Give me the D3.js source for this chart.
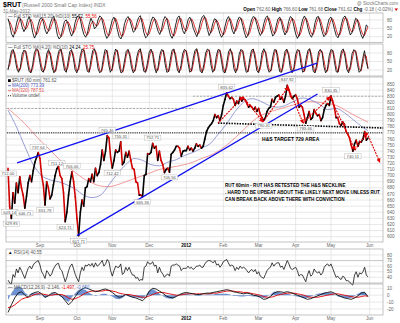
<!DOCTYPE html>
<html><head><meta charset="utf-8">
<script src="https://cdn.jsdelivr.net/npm/d3@7"></script>
<style>
body{margin:0;background:#fff}
svg{display:block}
text{font-family:"Liberation Sans",Arial,sans-serif}
</style>
</head><body>
<svg id="chart" width="400" height="323"></svg>
<script>
// ---- data: $RUT 60-minute, 5 Aug 2011 .. 31 May 2012 (one value per trading day) ----
const priceVals = [
712,649.14,629.85,672,655,688,672,698,680,668,646.71,666,688,700,690,708,722,730,737.64,
728,700,685,651.79,690,680,662,668,685,700,711.12,715,700,695,672,624.71,640,668,690,706.06,690,665,
630,601.71,640,660,650,680,682,695,690,702,690,712,700,705,718,742,725,740,765.46,762,730,
712.42,725,742,738,740,755.31,718,722,738,730,740,725,712,710,690,688,668,668,665.36,700,702,736,
735,738,752.71,745,748,725,740,725,718,705,710,712,705.56,735,738,742,748,748,745,732,740,741,
741,748,742,745,740,745,752,748,750,745,748,760,772,778,782,785,790,800,795,798,790,800,
815,825,835.62,830,826,828,825,815,822,818,828,822,826,824,818,812,815,812,808,812,805,
810,800,795,790.41,795,805,810,812,825,820,828,830,832,825,828,820,830,847.92,840,830,826,830,
832,826,812,815,812,800,785.66,795,805,792,795,808,802,798,800,790,795,808,815,818,815,
830.35,822,812,795,795,785,782,788,784,772,768,762,750,740.11,752,758,748,756,755,760,772,758,761.62
];
// annotated swing points: index into priceVals, placed above or below the bar
const swingLabels = [
  {i:0,pos:"below"},{i:1,pos:"below"},{i:2,pos:"below"},{i:10,pos:"below"},{i:18,pos:"above"},
  {i:22,pos:"below"},{i:29,pos:"above"},{i:34,pos:"below"},{i:38,pos:"above"},{i:42,pos:"below"},
  {i:59,pos:"above"},{i:62,pos:"below"},{i:67,pos:"above"},{i:80,pos:"below"},{i:86,pos:"above"},
  {i:96,pos:"below"},{i:130,pos:"above"},{i:152,pos:"below"},{i:166,pos:"above"},{i:177,pos:"below"},
  {i:192,pos:"above"},{i:205,pos:"below"}
];
// moving averages sampled every 5 trading days
const maIdx = [0,5,10,15,20,25,30,35,40,45,50,55,60,65,70,75,80,85,90,95,100,105,110,115,120,125,130,135,140,145,150,155,160,165,170,175,180,185,190,195,200,205,210,214];
const ma200 = [807,780,748,718,700,693,690,685,678,668,664,668,685,703,718,728,725,718,716,722,726,733,738,745,752,768,785,805,820,826,822,815,812,815,822,827,824,817,808,810,803,792,781,773.39];
const ma320 = [810,798,785,770,755,742,728,716,705,695,688,683,682,685,690,695,700,705,710,713,715,718,722,728,733,740,750,762,775,788,798,804,808,812,816,820,821,820,818,815,808,800,793,787.51];

const sto1K = [
85,62,30,18,40,72,90,84,55,38,50,78,92,70,35,15,28,60,82,88,
74,45,30,42,68,85,93,60,25,12,20,48,75,80,66,40,22,35,70,90,
95,82,50,28,18,32,64,86,72,48,55,80,94,88,60,30,14,24,52,78,
90,76,44,20,12,30,66,84,92,80,58,36,42,70,88,95,68,34,16,22,
48,74,90,86,62,40,28,46,78,92,84,52,26,14,30,62,88,94,70,42,
30,52,80,90,76,50,34,20,40,72,90,96,78,46,24,38,66,84,80,56,
32,18,28,58,82,92,74,44,30,48,76,90,86,60,34,16,26,54,80,92,
88,64,40,24,36,68,88,94,72,44,22,30,60,84,90,70,42,26,40,74,
92,86,58,30,14,26,56,82,94,80,50,28,18,36,70,90,92,66,38,20,
28,60,84,90,72,46,24,16,34,66,88,94,76,48,26,36,64,86,80,52,
28,14,30,62,55.72];
const sto1D = [
80,74,58,38,30,45,68,84,78,58,46,55,74,82,68,42,26,36,58,78,
84,70,50,40,48,66,84,80,58,32,20,28,50,70,74,62,42,32,44,68,
86,90,74,52,32,26,40,64,76,68,58,62,78,88,80,58,34,22,32,54,
74,86,70,46,25,22,38,62,82,86,76,56,44,52,68,86,84,62,38,24,
30,48,72,84,78,60,42,38,52,74,86,76,52,30,22,36,62,84,86,66,
46,40,56,76,84,72,52,34,30,46,70,88,88,68,46,34,44,66,80,72,
54,36,26,36,58,80,84,66,46,40,54,76,86,78,56,34,24,34,58,80,
88,80,62,42,32,44,68,86,86,66,42,30,40,64,84,82,62,40,34,50,
72,86,80,58,32,22,34,58,82,86,70,48,30,28,46,72,88,82,60,36,
26,36,60,80,84,68,44,26,26,44,70,88,86,66,44,36,46,70,82,70,
46,28,24,40,55.56];
const sto2K = [
20,55,88,92,60,25,12,30,75,90,85,45,15,10,40,82,95,88,50,18,
12,35,78,92,70,30,10,20,65,90,94,55,20,12,48,85,92,62,22,10,
30,72,94,90,45,15,12,55,88,95,70,25,10,18,60,92,88,40,12,25,
70,94,85,35,10,15,52,86,93,68,28,10,22,66,90,95,50,15,12,45,
82,94,75,30,10,28,72,92,88,42,12,15,58,90,94,60,20,10,35,78,
93,85,45,12,18,62,90,95,55,15,10,40,80,94,88,38,12,22,68,92,
90,50,14,10,45,85,95,72,25,10,30,76,93,86,40,12,15,60,90,94,
58,18,10,38,82,95,78,30,12,20,65,92,90,45,14,12,50,86,94,70,
25,10,28,74,92,88,42,12,18,62,90,95,55,15,10,42,84,93,80,32,
10,22,70,92,89,48,14,12,55,88,94,66,22,10,35,78,92,85,40,12,
20,60,88,50,24.24];
const sto2D = [
25,38,72,90,76,42,18,22,52,82,88,65,30,12,25,61,88,92,69,34,
15,24,56,85,81,50,20,15,42,78,92,74,38,16,30,66,88,77,42,16,
20,51,83,92,68,30,14,34,72,92,82,48,18,14,39,76,90,64,26,18,
48,82,90,60,22,12,34,69,90,80,48,19,16,44,78,92,72,32,14,28,
64,88,85,52,20,19,50,82,90,65,27,14,36,74,92,77,40,15,22,56,
86,89,65,28,15,40,76,92,75,35,12,25,60,87,91,63,25,17,45,80,
91,70,32,12,28,65,90,84,48,18,20,53,84,90,63,26,14,38,75,92,
76,38,14,24,60,88,86,54,21,16,42,78,91,68,30,13,31,68,90,82,
48,18,19,51,83,90,65,27,15,40,76,92,75,35,12,26,63,88,86,56,
21,16,46,81,90,68,31,13,34,72,91,80,44,16,22,56,85,88,62,26,
16,40,74,69,25.75];
const rsiVals = [
35,30,28,45,40,55,48,58,52,45,38,48,56,60,55,62,66,68,70,
62,50,45,38,52,48,42,46,55,60,64,65,55,52,42,32,40,52,60,64,55,45,
38,32,48,58,52,62,60,64,60,65,58,66,60,62,66,70,60,64,72,68,52,
42,52,60,58,58,64,45,48,58,52,58,50,44,44,38,40,34,36,35,58,60,68,
64,64,68,60,62,48,58,50,46,40,44,46,42,60,62,62,64,62,60,52,56,56,
56,60,56,58,54,56,60,60,62,58,58,64,68,70,70,68,66,70,62,64,58,62,
68,70,72,66,60,62,60,52,58,54,60,56,58,56,52,48,52,54,50,54,46,
50,42,40,38,45,52,56,58,66,60,64,66,66,58,60,54,62,70,64,56,54,56,
58,52,42,45,44,38,32,44,52,42,45,55,50,48,50,44,48,58,62,64,60,
64,56,48,40,42,38,36,42,40,34,34,32,28,26,44,50,40,48,46,50,58,44,40.55];
// MACD(12,26,9) sampled every 2 trading days
const macdLine = [
-25,-14,-4,3,5,0,-3,2,4,5, 2,-3,-1,3,4,1,-2,-8,-14,-9,
-2,5,9,11,9,7,5,6,8,9, 7,4,0,-3,-2,1,-1,-3,-4,-6,
-8,-3,6,10,9,6,3,-1,-3,-4, -2,1,3,4,3,2,1,1,2,3,
3,4,5,6,7,8,7,5,4,3, 2,3,2,0,-1,-3,-6,-5,-2,3,
5,5,4,5,4,2,0,-2,-4,-6, -5,-3,-1,1,3,4,5,3,0,-2,
-4,-5,-6,-4,-1,3,4,-2.146];
const macdSignal = [
-18,-17,-14,-10,-6,-4,-3,-1,1,2, 2,1,0,0,1,1,1,-1,-4,-6,
-5,-3,0,3,5,6,6,6,6,7, 7,6,5,3,2,1,1,0,-1,-2,
-3,-3,-1,1,3,4,4,3,2,1, 0,0,1,2,2,2,2,2,2,2,
2,3,3,4,5,6,6,6,5,5, 4,4,3,2,1,0,-2,-3,-3,-2,
0,1,2,3,3,3,2,1,0,-2, -3,-3,-3,-2,-1,0,1,2,2,1,
0,-1,-2,-3,-3,-2,-1,-1.497];

const monthTicks = [
  {label:"Sep",i:19},{label:"Oct",i:41},{label:"Nov",i:62},{label:"Dec",i:84},{label:"2012",i:106,bold:true},
  {label:"Feb",i:128},{label:"Mar",i:149},{label:"Apr",i:171},{label:"May",i:192},{label:"Jun",i:215}
];
const mainTicks = d3.range(600, 851, 10);

// chart annotations in (trading-day index, price) space
const upperChannel = [[5.4,720.7],[183.7,884]];
const lowerChannel = [[41,601.71],[184,833.6]];
const neckline = [[124.8,786],[223,778]];
const level770 = [[-0.6,770],[223,770]];
const dashedLevels = [{from:110,to:223,v:830},{from:-0.6,to:110,v:810}];
const hsPath = [[124.8,786],[139.7,829],[151.6,788],[166.5,845],[175.4,786],[191.4,829],[206.3,742],[213.4,770],[221,722]];

// ---- layout ----
const svg = d3.select("#chart");
const L = 6, R = 383;
const nDays = priceVals.length;
const x = d3.scaleLinear().domain([0, nDays - 1]).range([8, 368]);
const panels = {
  sto1:{top:13,bottom:42.5},
  sto2:{top:44,bottom:76},
  main:{top:77,bottom:242},
  rsi:{top:249,bottom:283},
  macd:{top:284,bottom:315}
};
const yS1 = d3.scaleLinear().domain([0,100]).range([42.3,14.3]);
const yS2 = d3.scaleLinear().domain([0,100]).range([75.7,47.3]);
const yM = d3.scaleLinear().domain([600,850]).range([236.7,84]);
const yR = d3.scaleLinear().domain([40,80]).range([277.3,255]);
const yD = d3.scaleLinear().domain([-20,10]).range([309,288.3]);

const grid = "#d8d8d8";
function panelFrame(p, yTicks, yScale, fmt, strong){
  const g = svg.append("g");
  g.selectAll("line.h").data(yTicks).join("line")
    .attr("x1",L).attr("x2",R).attr("y1",d=>yScale(d)).attr("y2",d=>yScale(d))
    .attr("stroke",d=>strong&&strong.includes(d)?"#a0a0a0":grid).attr("stroke-width",0.6);
  g.selectAll("line.v").data(monthTicks).join("line")
    .attr("x1",d=>x(d.i)).attr("x2",d=>x(d.i)).attr("y1",p.top).attr("y2",p.bottom)
    .attr("stroke",grid).attr("stroke-width",0.6);
  g.append("rect").attr("x",L).attr("y",p.top).attr("width",R-L).attr("height",p.bottom-p.top)
    .attr("fill","none").attr("stroke","#9a9a9a").attr("stroke-width",0.6);
  g.selectAll("text").data(yTicks).join("text")
    .attr("x",387).attr("y",d=>yScale(d)+1.6).attr("font-size",4.6).attr("fill","#666").text(fmt||(d=>d));
  return g;
}
function linePath(xs, ys){ return d3.line().x((d,i)=>xs(i)).y(d=>ys(d)); }

// ---- header ----
svg.append("text").attr("x",3).attr("y",7).attr("font-size",7).attr("font-weight","bold").text("$RUT");
svg.append("text").attr("x",22).attr("y",7).attr("font-size",5).attr("fill","#777").text("(Russell 2000 Small Cap Index)  INDX");
svg.append("text").attr("x",3).attr("y",12.5).attr("font-size",4.6).attr("fill","#777").text("31-May-2012");
svg.append("text").attr("x",398).attr("y",4.5).attr("font-size",4.6).attr("fill","#777").attr("text-anchor","end").text("@ StockCharts.com");
const quote = svg.append("text").attr("x",393).attr("y",10.5).attr("font-size",4.6).attr("text-anchor","end");
[["Open ","#000",true],["762.60 ","#666"],["High ","#000",true],["766.60 ","#666"],["Low ","#000",true],["761.68 ","#666"],
 ["Close ","#000",true],["761.62 ","#666"],["Chg ","#000",true],["-0.18 (-0.02%)","#666"]].forEach(t=>{
  quote.append("tspan").attr("fill",t[1]).attr("font-weight",t[2]?"bold":"normal").text(t[0]);
});
svg.append("path").attr("d","M394.5,8.5 L398,8.5 L396.25,11 Z").attr("fill","#c00");

// ---- stochastic panels ----
function stoPanel(p, ys, k, d, title, kv, dv){
  panelFrame(p, [20,50,80], ys);
  const xi = d3.scaleLinear().domain([0,k.length-1]).range([x(0), x(nDays-1)]);
  const xd = d3.scaleLinear().domain([0,d.length-1]).range([x(0), x(nDays-1)]);
  svg.append("path").attr("d",linePath(xd,ys)(d)).attr("fill","none").attr("stroke","#d00000").attr("stroke-width",0.8);
  svg.append("path").attr("d",linePath(xi,ys)(k)).attr("fill","none").attr("stroke","#111").attr("stroke-width",0.9);
  const t = svg.append("text").attr("x",L+2).attr("y",p.top+4.5).attr("font-size",4.5);
  t.append("tspan").attr("fill","#000").text("\u2014 ");
  t.append("tspan").attr("fill","#555").text(title+" ");
  t.append("tspan").attr("fill","#000").text(kv+", ");
  t.append("tspan").attr("fill","#e00").text(dv);
}
stoPanel(panels.sto1, yS1, sto1K, sto1D, "Full STO %K(15,20) %D(10)", "55.72", "55.56");
stoPanel(panels.sto2, yS2, sto2K, sto2D, "Full STO %K(4,20) %D(10)", "24.24", "25.75");

// ---- main price panel ----
const pm = panels.main;
panelFrame(pm, mainTicks, yM);
const mg = svg.append("g");
// dashed gray reference levels
dashedLevels.forEach(l=>{
  mg.append("line").attr("x1",x(l.from)).attr("x2",x(l.to)).attr("y1",yM(l.v)).attr("y2",yM(l.v))
    .attr("stroke","#888").attr("stroke-width",0.7).attr("stroke-dasharray","2,1.5");
});
// moving averages
const xMa = i => x(maIdx[i]);
mg.append("path").attr("d",d3.line().x((d,i)=>xMa(i)).y(d=>yM(d)).curve(d3.curveMonotoneX)(ma320))
  .attr("fill","none").attr("stroke","#f08080").attr("stroke-width",0.8);
mg.append("path").attr("d",d3.line().x((d,i)=>xMa(i)).y(d=>yM(d)).curve(d3.curveMonotoneX)(ma200))
  .attr("fill","none").attr("stroke","#7f86c8").attr("stroke-width",0.8);
// price: black on up moves, red on down moves
for(let i=1;i<nDays;i++){
  mg.append("line").attr("x1",x(i-1)).attr("y1",yM(priceVals[i-1])).attr("x2",x(i)).attr("y2",yM(priceVals[i]))
    .attr("stroke",priceVals[i]<priceVals[i-1]?"#d00000":"#000").attr("stroke-width",1.6).attr("stroke-linecap","round");
}
// horizontal level and neckline
const pl = d3.line().x(d=>x(d[0])).y(d=>yM(d[1]));
mg.append("path").attr("d",pl(level770)).attr("stroke","#000").attr("stroke-width",0.9).attr("stroke-dasharray","1.2,1").attr("fill","none");
mg.append("path").attr("d",pl(neckline)).attr("stroke","#000").attr("stroke-width",1.6).attr("stroke-dasharray","1.5,1.2").attr("fill","none");
// channel lines
mg.append("path").attr("d",pl(upperChannel)).attr("stroke","#1010ee").attr("stroke-width",1.3).attr("fill","none");
mg.append("path").attr("d",pl(lowerChannel)).attr("stroke","#1010ee").attr("stroke-width",1.3).attr("fill","none");
// head & shoulders projection arrows
svg.append("defs").append("marker").attr("id","ah").attr("viewBox","0 0 6 6").attr("refX",5).attr("refY",3)
  .attr("markerWidth",4).attr("markerHeight",4).attr("orient","auto")
  .append("path").attr("d","M0,0 L6,3 L0,6 Z").attr("fill","#e00000");
for(let i=1;i<hsPath.length;i++){
  mg.append("path").attr("d",pl([hsPath[i-1],hsPath[i]])).attr("stroke","#e00000").attr("stroke-width",1.1)
    .attr("stroke-dasharray","2,1").attr("fill","none").attr("marker-end","url(#ah)");
}
// swing value labels
swingLabels.forEach(s=>{
  const v = priceVals[s.i];
  const cx = x(s.i), cy = yM(v) + (s.pos==="below"?5.5:-5.5);
  const txt = v.toFixed(2);
  const w = txt.length*2.4+2;
  mg.append("rect").attr("x",cx-w/2).attr("y",cy-2.8).attr("width",w).attr("height",5).attr("fill","#fff")
    .attr("stroke","#aaa").attr("stroke-width",0.4);
  mg.append("text").attr("x",cx).attr("y",cy+1.5).attr("font-size",4.2).attr("fill","#555").attr("text-anchor","middle").text(txt);
});
// notes
mg.append("text").attr("x",x(151)).attr("y",yM(757)).attr("font-size",5).attr("font-weight","bold").text("H&S TARGET 729 AREA");
["RUT 60min - RUT HAS RETESTED THE H&S NECKLINE",
 ". HARD TO BE UPBEAT ABOUT THE LIKELY NEXT MOVE UNLESS RUT",
 "CAN BREAK BACK ABOVE THERE WITH CONVICTION"].forEach((s,k)=>{
  mg.append("text").attr("x",x(129)).attr("y",yM(681)+k*7).attr("font-size",4.6).attr("font-weight","bold").text(s);
});
// legend
const lg = svg.append("g").attr("font-size",4.5);
lg.append("rect").attr("x",L+2).attr("y",pm.top+2.2).attr("width",2.8).attr("height",2.8).attr("fill","#000");
lg.append("text").attr("x",L+6).attr("y",pm.top+5).attr("fill","#555").text("$RUT (60 min) 761.62");
[["MA(200) 773.39","#4b55b8","none"],["MA(320) 787.51","#e05050","none"],["Volume undef","#000","1,1"]].forEach((d,k)=>{
  const yy = pm.top+10+k*5;
  lg.append("line").attr("x1",L+2).attr("x2",L+5).attr("y1",yy-1.3).attr("y2",yy-1.3).attr("stroke",d[1]).attr("stroke-width",0.8).attr("stroke-dasharray",d[2]);
  lg.append("text").attr("x",L+6).attr("y",yy).attr("fill",d[1]==="#000"?"#555":d[1]).text(d[0]);
});
// month labels under main panel
svg.selectAll("text.m1").data(monthTicks).join("text").attr("x",d=>x(d.i)).attr("y",247)
  .attr("font-size",4.6).attr("text-anchor","middle").attr("fill",d=>d.bold?"#000":"#666")
  .attr("font-weight",d=>d.bold?"bold":"normal").text(d=>d.label);

// ---- RSI ----
const pr = panels.rsi;
panelFrame(pr, [40,50,60,70,80], yR, null, [70]);
const xr = d3.scaleLinear().domain([0,rsiVals.length-1]).range([x(0),x(nDays-1)]);
svg.append("path").attr("d",linePath(xr,yR)(rsiVals)).attr("fill","none").attr("stroke","#111").attr("stroke-width",0.8);
const rt = svg.append("text").attr("x",L+2).attr("y",pr.top+4.5).attr("font-size",4.5);
rt.append("tspan").text("\u25b2 ");
rt.append("tspan").attr("fill","#555").text("RSI(14) 40.55");

// ---- MACD ----
const pd = panels.macd;
panelFrame(pd, [-20,-10,0,10], yD);
const xm = d3.scaleLinear().domain([0,macdLine.length-1]).range([x(0),x(nDays-1)]);
const hist = macdLine.map((v,i)=>v-macdSignal[i]);
svg.append("path").attr("d",d3.area().x((d,i)=>xm(i)).y0(yD(0)).y1(d=>yD(d))(hist))
  .attr("fill","#3f6fc0").attr("opacity",0.75);
svg.append("path").attr("d",linePath(xm,yD)(macdSignal)).attr("fill","none").attr("stroke","#e00000").attr("stroke-width",0.9);
svg.append("path").attr("d",linePath(xm,yD)(macdLine)).attr("fill","none").attr("stroke","#111").attr("stroke-width",0.9);
const mt = svg.append("text").attr("x",L+2).attr("y",pd.top+4.5).attr("font-size",4.5);
mt.append("tspan").text("\u2014 ");
mt.append("tspan").attr("fill","#555").text("MACD(12,26,9) -2.146, ");
mt.append("tspan").attr("fill","#e00").text("-1.497, ");
mt.append("tspan").attr("fill","#57c").text("-0.650");
svg.selectAll("text.m2").data(monthTicks).join("text").attr("x",d=>x(d.i)).attr("y",320)
  .attr("font-size",4.6).attr("text-anchor","middle").attr("fill",d=>d.bold?"#000":"#666")
  .attr("font-weight",d=>d.bold?"bold":"normal").text(d=>d.label);
</script>
</body></html>
